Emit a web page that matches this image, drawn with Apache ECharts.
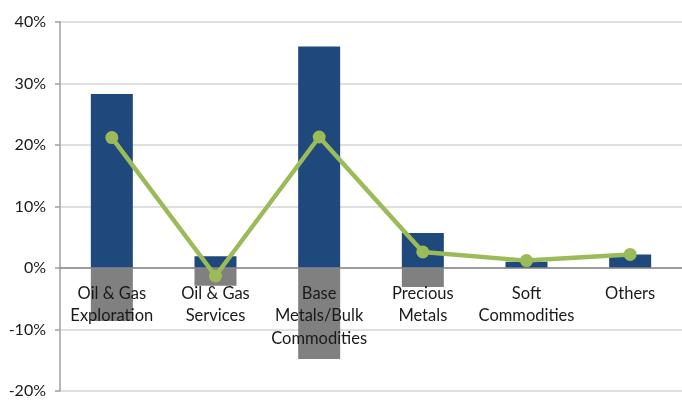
<!DOCTYPE html>
<html>
<head>
<meta charset="utf-8">
<script src="https://cdn.jsdelivr.net/npm/echarts@6/dist/echarts.min.js"></script>
<style>
  html, body { margin: 0; padding: 0; background: #fff; }
  #chart { width: 682px; height: 400px; }
</style>
</head>
<body>
<div id="chart"></div>
<script>
// 数据
var categories = ['Oil & Gas\nExploration', 'Oil & Gas\nServices', 'Base\nMetals/Bulk\nCommodities', 'Precious\nMetals', 'Soft\nCommodities', 'Others'];
var positiveValues = [28.3, 1.9, 36.0, 5.7, 1.0, 2.2];
var negativeValues = [-8.6, -2.9, -14.8, -3.1, 0, 0];
var netValues = [21.2, -1.3, 21.3, 2.6, 1.2, 2.2];
var yTicks = { min: -20, max: 40, interval: 10 };

var myChart = echarts.init(document.getElementById('chart'));
var font = 'Lato, "Open Sans", sans-serif';

var option = {
    animation: false,
    grid: { left: 60, right: 0, top: 22, bottom: 9, containLabel: false, outerBoundsMode: 'none' },
    xAxis: {
        type: 'category',
        data: categories,
        z: 10,
        axisLine: { onZero: true, lineStyle: { color: '#868686', width: 1.5 } },
        axisTick: { show: false },
        axisLabel: {
            interval: 0,
            // 标签放到 0 轴下面
            margin: -109,
            color: '#1a1a1a',
            fontSize: 16.5,
            lineHeight: 22.5,
            fontFamily: font
        }
    },
    yAxis: {
        type: 'value',
        min: yTicks.min,
        max: yTicks.max,
        interval: yTicks.interval,
        axisLine: { show: true, lineStyle: { color: '#a0a0a0', width: 1.5 } },
        axisTick: { show: true, length: 5, lineStyle: { color: '#a0a0a0', width: 1.5 } },
        axisLabel: {
            margin: 14,
            color: '#1a1a1a',
            fontSize: 16,
            fontFamily: font,
            formatter: '{value}%'
        },
        splitLine: { lineStyle: { color: '#d4d4d4', width: 1.5 } }
    },
    series: [
        {
            name: 'positive',
            type: 'bar',
            data: positiveValues,
            barWidth: 42,
            barGap: '-100%',
            itemStyle: { color: '#1f497d' }
        },
        {
            name: 'negative',
            type: 'bar',
            data: negativeValues,
            barWidth: 42,
            itemStyle: { color: '#808080' }
        },
        {
            name: 'net',
            type: 'line',
            data: netValues,
            symbol: 'circle',
            symbolSize: 13,
            lineStyle: { color: '#9bbb59', width: 4.5 },
            itemStyle: { color: '#9bbb59' },
            z: 12
        }
    ]
};

myChart.setOption(option);
</script>
</body>
</html>
